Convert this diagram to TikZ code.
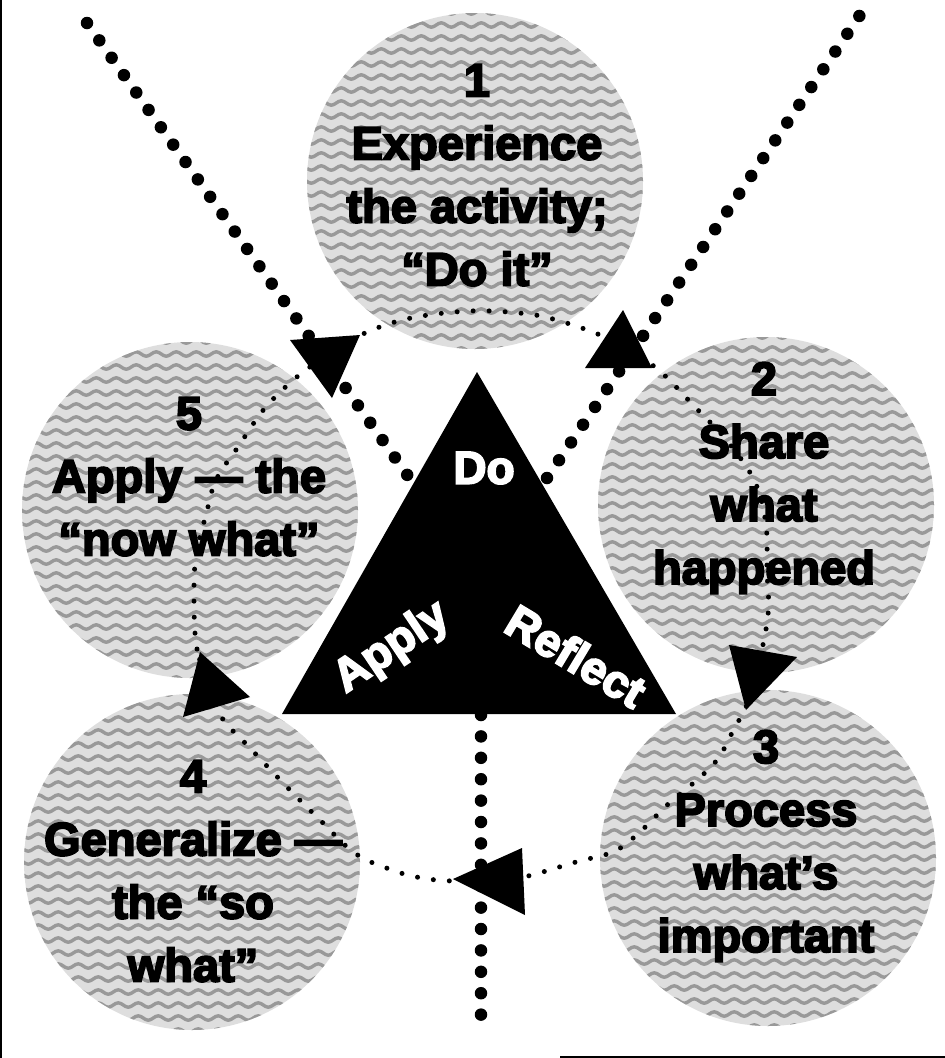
\documentclass[tikz,border=0pt]{standalone}
\usepackage{fontspec}
\setmainfont{Liberation Sans}[BoldFeatures={FakeBold=4}]
\usetikzlibrary{decorations.pathmorphing,calc}

% stippled disc: light fill with horizontal wavy bands
\newcommand\texturedisc[1]{%
  \begin{scope}
    \clip (#1.center) circle[radius=168pt];
    \fill[black!13] (#1.center) circle[radius=170pt];
    \foreach \k in {-13,...,13}
      \draw[wave] ($(#1.center)+(-180,\k*13)$) -- ++(360,0);
  \end{scope}}

\begin{document}
\begin{tikzpicture}[x=1pt,y=-1pt,
  disc/.style={circle, minimum size=336pt, inner sep=0pt},
  wave/.style={draw=black!40, line width=3.4pt, decorate,
    decoration={snake, amplitude=2.2pt, segment length=20pt}},
  stage/.style={font=\bfseries\fontsize{47}{63}\selectfont, align=center,
    inner sep=0pt, anchor=north},
  corner/.style={font=\bfseries\fontsize{46}{56}\selectfont, text=white,
    inner sep=0pt},
  bigdots/.style={line width=12.5pt, line cap=round, dash pattern=on 0pt off #1},
  smalldots/.style={line width=5pt, line cap=round, dash pattern=on 0pt off 16pt},
  tip/.style={fill=black}]

\useasboundingbox (0,0) rectangle (945,1058);

% frame lines
\draw[line width=2pt] (1,0) -- (1,1058);
\draw[line width=2pt] (560,1056.5) -- (945,1056.5);

% the five stage discs
\node[disc] (c1) at (475,181) {};
\node[disc] (c2) at (766,505) {};
\node[disc] (c3) at (768,858) {};
\node[disc] (c4) at (192,862) {};
\node[disc] (c5) at (190,510) {};
\foreach \c in {c1,c2,c3,c4,c5} {\texturedisc{\c}}

% arrowhead positions on the cycle
\coordinate (a1) at (327,356);
\coordinate (a2) at (620,349);
\coordinate (a3) at (757,671);
\coordinate (a4) at (500,880);
\coordinate (a5) at (211,689);

% small dotted cycle linking the stages
\draw[smalldots] plot[smooth cycle, tension=0.6] coordinates {
  (a5) (197,649) (194,600) (196,555) (206,515) (216,480) (238,447)
  (265,408) (298,376) (a1) (365,333) (411,318) (470,311) (519,313)
  (553,319) (600,335) (a2) (655,367) (696,408) (728,442) (755,482)
  (766,525) (767,570) (768,615) (a3) (746,707) (735,727) (717,760)
  (690,786) (666,806) (642,830) (615,851) (576,862) (528,876) (a4)
  (453,881) (422,878) (395,871) (356,854) (320,820) (286,786)
  (250,748) (222,718)};

% central triangle
\coordinate (apex) at (477,372);
\coordinate (bl) at (282,714);
\coordinate (br) at (676,714);

% large dotted lines in and out of the triangle
\coordinate (inL) at (87,23);
\coordinate (endL) at (408,476);
\coordinate (startR) at (547,478);
\coordinate (outR) at (860,15);
\coordinate (baseM) at (481,715);
\coordinate (outB) at (481,1016);
\draw[bigdots=21.3pt] (inL) -- (endL);
\draw[bigdots=21.45pt] (startR) -- (outR);
\draw[bigdots=21.4pt] (baseM) -- (outB);

\fill (apex) -- (bl) -- (br) -- cycle;

% arrowheads
\fill[tip] (290,340) -- (360,335) -- (332,398) -- cycle;
\fill[tip] (623,310) -- (652,368) -- (585,368) -- cycle;
\fill[tip] (729,645) -- (797,657) -- (746,710) -- cycle;
\fill[tip] (453,879) -- (522,848) -- (525,915) -- cycle;
\fill[tip] (200,652) -- (250,697) -- (183,717) -- cycle;

% stage texts
\node[stage] (t1) at (477,64) {1\\Experience\\the activity;\\“Do it”};
\node[stage] (t2) at (764,362) {2\\Share\\what\\happened};
\node[stage] (t3) at (766,730) {3\\Process\\what’s\\important};
\node[stage] (t4) at (193,760) {4\\Generalize —\\the “so\\what”};
\node[stage] (t5) at (189,397) {5\\Apply — the\\“now what”};

% triangle labels
\node[corner] (doT) at (484,468) {Do};
\node[corner, rotate=34] (applyT) at (392,648) {Apply};
\node[corner, rotate=-31] (reflectT) at (576,656) {Reflect};
\end{tikzpicture}
\end{document}
